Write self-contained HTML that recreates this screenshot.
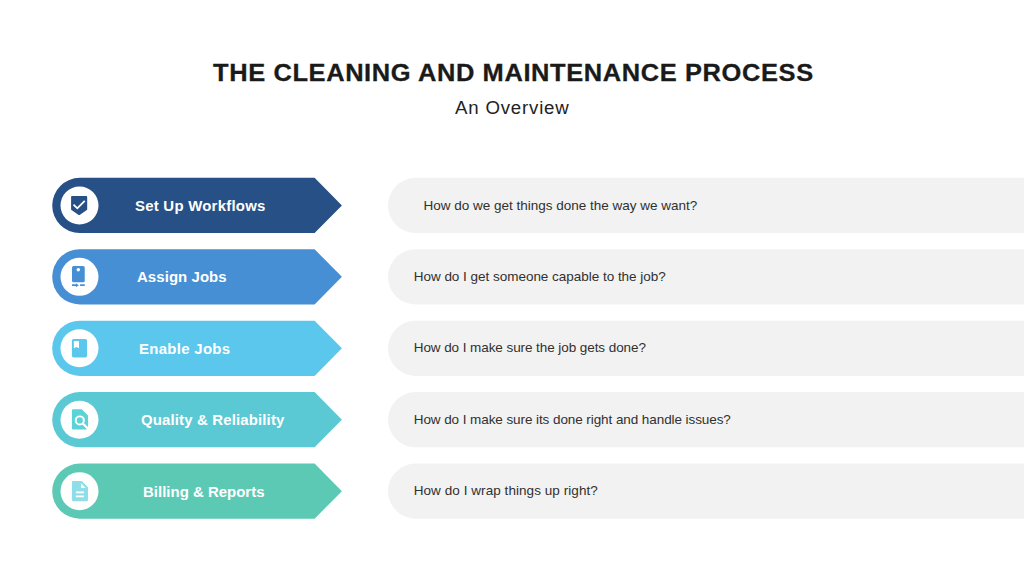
<!DOCTYPE html>
<html><head><meta charset="utf-8">
<style>
html,body{margin:0;padding:0;background:#fff;}
body{width:1024px;height:576px;position:relative;overflow:hidden;font-family:"Liberation Sans",sans-serif;}
.abs{position:absolute;white-space:nowrap;}
#title{left:212.62px;top:59.00px;transform:scaleX(1.06);transform-origin:0 0;-webkit-text-stroke:0.3px #1a1a1a;font-weight:bold;font-size:24px;line-height:28px;color:#1a1a1a;letter-spacing:0.582px;}
#sub{left:455.01px;top:97.00px;transform:scaleX(1.06);transform-origin:0 0;font-size:17.6px;line-height:22px;color:#222;letter-spacing:0.758px;}
.lbl{transform:scaleX(1.03);transform-origin:0 0;font-weight:bold;font-size:14.5px;line-height:20px;color:#fff;}
.q{font-size:13.5px;line-height:20px;color:#303030;}
svg{position:absolute;left:0;top:0;}
</style></head><body>
<svg width="1024" height="576" viewBox="0 0 1024 576">
<path d="M79.80 177.85 H314.6 L341.9 205.45 L314.6 233.05 H79.80 A27.60 27.60 0 0 1 79.80 177.85 Z" fill="#265086"/>
<circle cx="79.5" cy="205.45" r="19" fill="#fff"/>
<path d="M71.90 196.90 H86.40 V209.30 L79.15 214.30 L71.90 209.30 Z" fill="#265086" stroke="#265086" stroke-width="1.6" stroke-linejoin="round"/><path d="M73.5 204.70 L77.3 208.30 L84.75 200.85" fill="none" stroke="#fff" stroke-width="1.85"/>
<path d="M415.60 177.85 H1024 V233.05 H415.60 A27.60 27.60 0 0 1 415.60 177.85 Z" fill="#f2f2f2"/>
<path d="M79.80 249.27 H314.6 L341.9 276.87 L314.6 304.47 H79.80 A27.60 27.60 0 0 1 79.80 249.27 Z" fill="#478fd4"/>
<circle cx="79.5" cy="276.87" r="19" fill="#fff"/>
<rect x="72" y="266.07" width="12.75" height="16.2" rx="1.6" fill="#478fd4"/><circle cx="78.3" cy="269.72" r="1.75" fill="#fff"/><path d="M72 285.14 H76.5 M80.1 285.14 H84.75" stroke="#478fd4" stroke-width="1.8" fill="none"/><path d="M75.8 283.17 L78.9 285.14 L75.8 287.17 Z" fill="#478fd4"/>
<path d="M415.60 249.27 H1024 V304.47 H415.60 A27.60 27.60 0 0 1 415.60 249.27 Z" fill="#f2f2f2"/>
<path d="M79.80 320.69 H314.6 L341.9 348.29 L314.6 375.89 H79.80 A27.60 27.60 0 0 1 79.80 320.69 Z" fill="#5bc7ed"/>
<circle cx="79.5" cy="348.29" r="19" fill="#fff"/>
<rect x="71.9" y="338.94" width="15.15" height="18.45" rx="1.6" fill="#5bc7ed"/><path d="M73.85 340.89 H79 V348.19 L76.43 346.89 L73.85 348.19 Z" fill="#fff"/>
<path d="M415.60 320.69 H1024 V375.89 H415.60 A27.60 27.60 0 0 1 415.60 320.69 Z" fill="#f2f2f2"/>
<path d="M79.80 392.11 H314.6 L341.9 419.71 L314.6 447.31 H79.80 A27.60 27.60 0 0 1 79.80 392.11 Z" fill="#5bc9d3"/>
<circle cx="79.5" cy="419.71" r="19" fill="#fff"/>
<path d="M73.00 410.31 H81.25 L86.95 416.01 V428.41 H73.00 Z" fill="#5cd3d6" stroke="#5cd3d6" stroke-width="2.2" stroke-linejoin="round"/><path d="M88.9 426.91 V430.31 H86" fill="#fff" stroke="none"/><path d="M86.2 430.31 L89 430.31 L89 427.31 Z" fill="#fff"/><circle cx="79.8" cy="420.41" r="4.05" fill="none" stroke="#fff" stroke-width="1.95"/><path d="M82.8 423.41 L89 429.61" stroke="#fff" stroke-width="2.2"/>
<path d="M415.60 392.11 H1024 V447.31 H415.60 A27.60 27.60 0 0 1 415.60 392.11 Z" fill="#f2f2f2"/>
<path d="M79.80 463.53 H314.6 L341.9 491.13 L314.6 518.73 H79.80 A27.60 27.60 0 0 1 79.80 463.53 Z" fill="#5cc9b5"/>
<circle cx="79.5" cy="491.13" r="19" fill="#fff"/>
<path d="M73.00 482.08 H81.35 L86.95 487.68 V500.03 H73.00 Z" fill="#8edde8" stroke="#8edde8" stroke-width="2.2" stroke-linejoin="round"/><path d="M81 483.28 V487.93 H85.75 Z" fill="#fff"/><path d="M75.85 492.38 H83.9 M75.85 496.38 H83.9" stroke="#fff" stroke-width="1.9"/>
<path d="M415.60 463.53 H1024 V518.73 H415.60 A27.60 27.60 0 0 1 415.60 463.53 Z" fill="#f2f2f2"/>
</svg>
<div class="abs" id="title">THE CLEANING AND MAINTENANCE PROCESS</div>
<div class="abs" id="sub">An Overview</div>
<div class="abs lbl" id="lbl0" style="left:135.23px;top:196.00px;letter-spacing:0.237px">Set Up Workflows</div>
<div class="abs q" id="q0" style="left:423.45px;top:196.00px;letter-spacing:-0.001px">How do we get things done the way we want?</div>
<div class="abs lbl" id="lbl1" style="left:137.31px;top:267.00px;letter-spacing:0.081px">Assign Jobs</div>
<div class="abs q" id="q1" style="left:413.73px;top:267.00px;letter-spacing:-0.022px">How do I get someone capable to the job?</div>
<div class="abs lbl" id="lbl2" style="left:138.62px;top:339.00px;letter-spacing:0.305px">Enable Jobs</div>
<div class="abs q" id="q2" style="left:413.73px;top:338.00px;letter-spacing:-0.074px">How do I make sure the job gets done?</div>
<div class="abs lbl" id="lbl3" style="left:140.72px;top:410.00px;letter-spacing:0.149px">Quality &amp; Reliability</div>
<div class="abs q" id="q3" style="left:413.73px;top:410.00px;letter-spacing:-0.079px">How do I make sure its done right and handle issues?</div>
<div class="abs lbl" id="lbl4" style="left:143.13px;top:482.00px;letter-spacing:0.021px">Billing &amp; Reports</div>
<div class="abs q" id="q4" style="left:413.73px;top:481.00px;letter-spacing:0.060px">How do I wrap things up right?</div>
</body></html>
